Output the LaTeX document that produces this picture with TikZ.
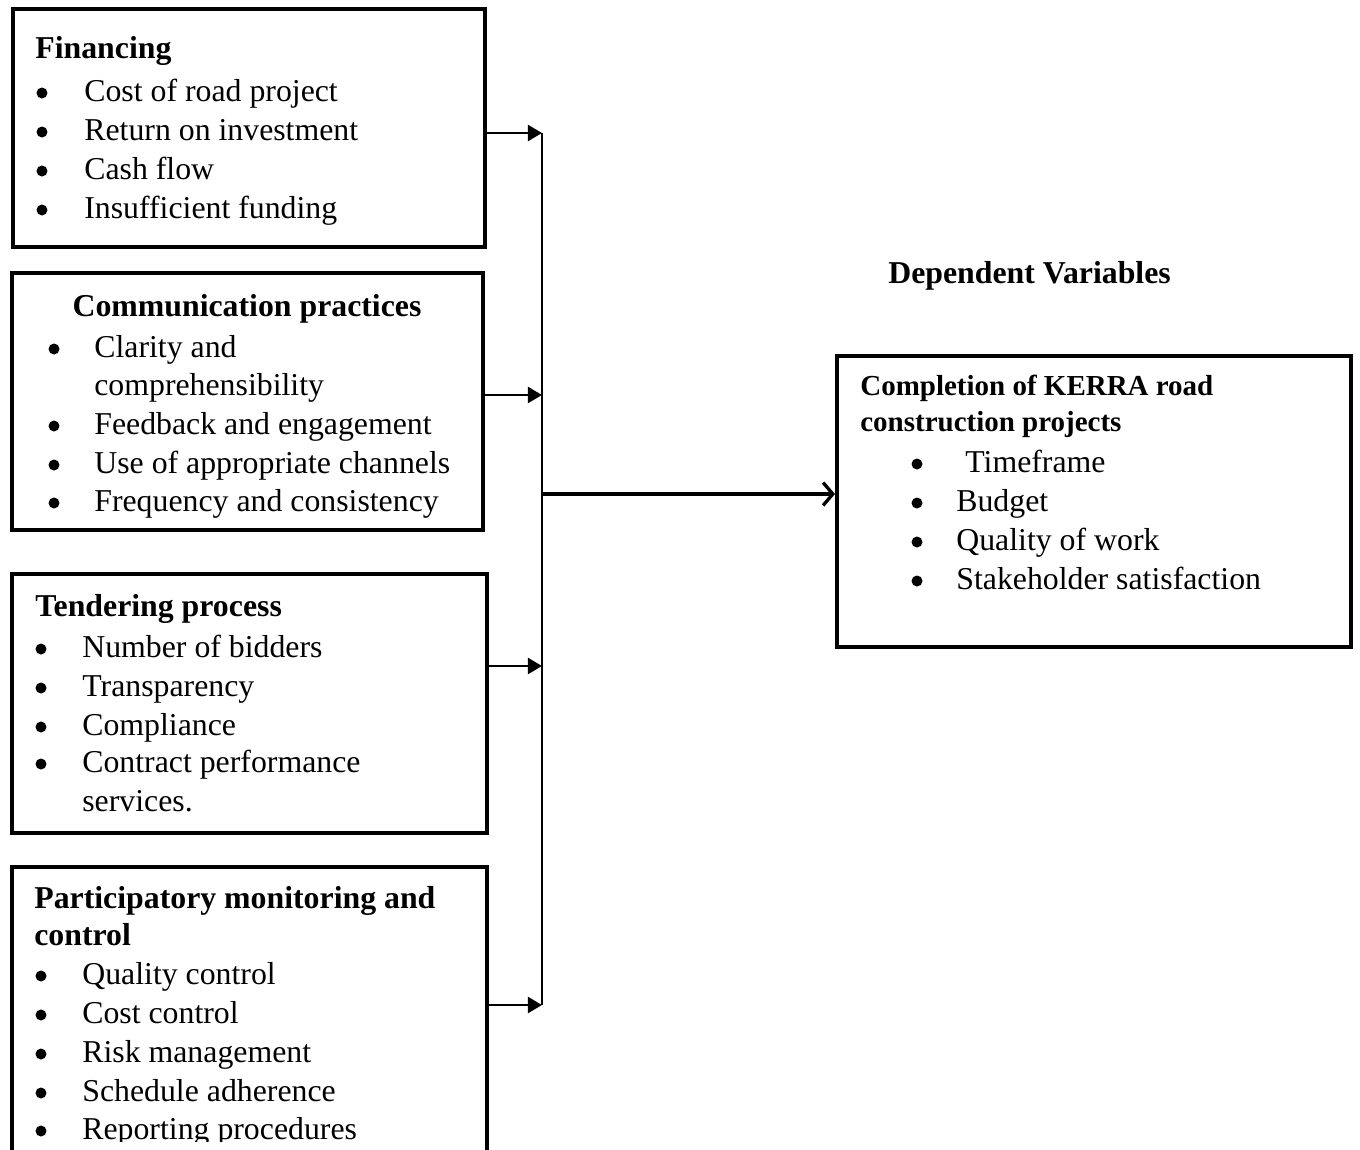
\documentclass[tikz,border=0pt]{standalone}
\usepackage{fontspec}
\setmainfont{Liberation Serif}
\usetikzlibrary{arrows.meta,fit}
\newcommand\itm[5]{%
  \node[bul] (#1b) at (#2,#4-8) {};
  \node[txt] (#1) at (#3,#4) {#5};}
\begin{document}
\begin{tikzpicture}[x=0.02cm,y=-0.02cm,
  box/.style={draw, line width=2.3pt, inner sep=0pt, rectangle},
  txt/.style={anchor=base west, inner sep=0pt, font=\fontsize{18.1}{22}\selectfont},
  bul/.style={circle, fill, inner sep=0pt, minimum size=0.22cm},
  hd/.style={txt, font=\fontsize{18.1}{22}\selectfont\bfseries},
  hds/.style={txt, font=\fontsize{16.5}{20}\selectfont\bfseries},
  feed/.style={line width=1.6pt, -{Triangle[length=8pt,width=9pt]}},
  bus/.style={line width=1.3pt},
  mainarr/.style={line width=1.9pt, -{Straight Barb[length=5.5pt,width=13pt,line width=1.9pt]}}]
\clip (0,0) rectangle (1360,1150);
\fill[white] (0,0) rectangle (1360,1150);
% boxes
\node[box, fit={(13,9) (485,247)}] (fin) {};
\node[box, fit={(12,273) (483,530)}] (com) {};
\node[box, fit={(12,574) (487,833)}] (ten) {};
\node[box, fit={(12,867) (487,1200)}] (par) {};
\node[box, fit={(837,356) (1351,647)}] (dep) {};
% Financing
\node[hd] (finh) at (35,58) {Financing};
\itm{f1}{42}{84}{101}{Cost of road project}
\itm{f2}{42}{84}{140}{Return on investment}
\itm{f3}{42}{84}{179}{Cash flow}
\itm{f4}{42}{84}{218}{Insufficient funding}
% Communication
\node[hd, anchor=base] (comh) at (247,316) {Communication practices};
\itm{c1}{54}{94}{357}{Clarity and}
\node[txt] (c1x) at (94,395) {comprehensibility};
\itm{c2}{54}{94}{434}{Feedback and engagement}
\itm{c3}{54}{94}{473}{Use of appropriate channels}
\itm{c4}{54}{94}{511}{Frequency and consistency}
% Tendering
\node[hd] (tenh) at (35,616) {Tendering process};
\itm{t1}{41}{82}{657}{Number of bidders}
\itm{t2}{41}{82}{696}{Transparency}
\itm{t3}{41}{82}{735}{Compliance}
\itm{t4}{41}{82}{772}{Contract performance}
\node[txt] (t4x) at (82,811) {services.};
% Participatory
\node[hd] (parh) at (34,908) {Participatory monitoring and};
\node[hd] (parh2) at (34,945) {control};
\begin{scope}
\clip (0,0) rectangle (1360,1141);
\itm{p1}{41}{82}{984}{Quality control}
\itm{p2}{41}{82}{1023}{Cost control}
\itm{p3}{41}{82}{1062}{Risk management}
\itm{p4}{41}{82}{1101}{Schedule adherence}
\itm{p5}{41}{82}{1139}{Reporting procedures}
\end{scope}
% Dependent
\node[hd] (dvh) at (888,283) {Dependent Variables};
\node[hds] (deph) at (860,395) {Completion of KERRA road};
\node[hds] (deph2) at (860,431) {construction projects};
\itm{d1}{917}{965}{472}{Timeframe}
\itm{d2}{917}{956}{511}{Budget}
\itm{d3}{917}{956}{550}{Quality of work}
\itm{d4}{917}{956}{589}{Stakeholder satisfaction}
% connectors
\coordinate (b1) at (542,133);
\coordinate (b2) at (542,395);
\coordinate (b3) at (542,666);
\coordinate (b4) at (542,1005);
\coordinate (bm) at (542,494);
\draw[bus] (b1) -- (b4);
\draw[feed] (fin.east |- b1) -- (b1);
\draw[feed] (com.east |- b2) -- (b2);
\draw[feed] (ten.east |- b3) -- (b3);
\draw[feed] (par.east |- b4) -- (b4);
\draw[mainarr] (bm) -- (dep.west |- bm);
\end{tikzpicture}
\end{document}
